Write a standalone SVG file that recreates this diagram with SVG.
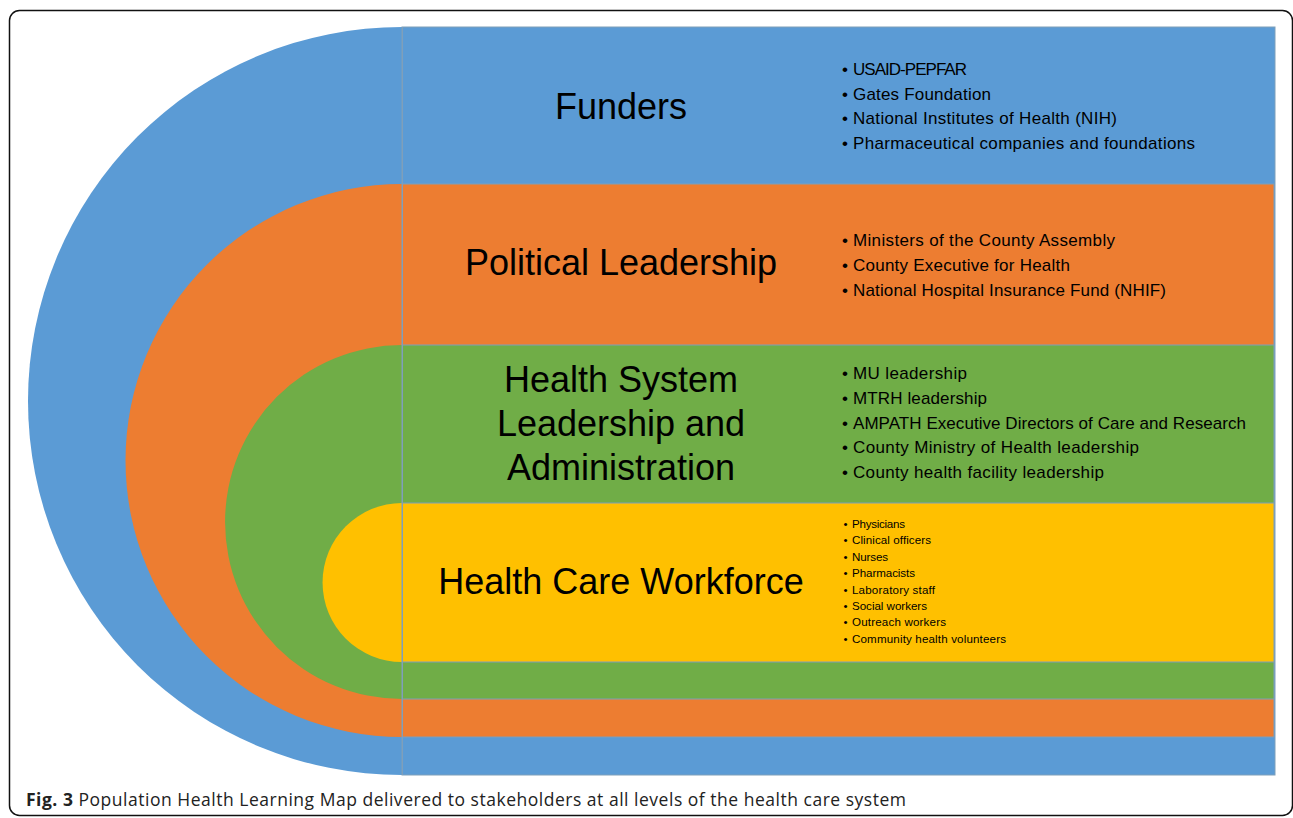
<svg xmlns="http://www.w3.org/2000/svg" width="1293" height="818" viewBox="0 0 1293 818">
<style>
.title{font-family:"Liberation Sans",Arial,sans-serif;font-size:36px;fill:#000;text-anchor:middle}
.li{font-family:"Liberation Sans",Arial,sans-serif;font-size:17px;fill:#000}
.ls{font-family:"Liberation Sans",Arial,sans-serif;font-size:11.6px;fill:#000}
.edge{fill:none;stroke:#7f9fba;stroke-width:1}
.cap{font-family:"Open Sans","Noto Sans",sans-serif;font-size:17.5px;fill:#222}
</style>
<rect x="9.5" y="10.5" width="1283" height="805" rx="10" ry="10" fill="#fff" stroke="#111" stroke-width="1.5"/>
<g id="funders">
<path d="M1275,27 H402 A374,374 0 0 0 402,775 H1275 Z" fill="#5B9BD5"/>
<rect class="edge" x="402" y="27" width="873" height="748" stroke="#6f9fcf"/>
<text class="title" x="621" y="119">Funders</text>
<text class="li" x="842" y="75">•</text><text class="li" x="853" y="75" textLength="114">USAID-PEPFAR</text>
<text class="li" x="842" y="99.5">•</text><text class="li" x="853" y="99.5" textLength="138">Gates Foundation</text>
<text class="li" x="842" y="124">•</text><text class="li" x="853" y="124" textLength="264">National Institutes of Health (NIH)</text>
<text class="li" x="842" y="148.5">•</text><text class="li" x="853" y="148.5" textLength="342">Pharmaceutical companies and foundations</text>
</g>
<g id="political">
<path d="M1274,184 H402 A276.5,276.5 0 0 0 402,737 H1274 Z" fill="#ED7D31"/>
<rect class="edge" x="402" y="184" width="872" height="553"/>
<text class="title" x="621" y="275">Political Leadership</text>
<text class="li" x="842" y="246">•</text><text class="li" x="853" y="246" textLength="262">Ministers of the County Assembly</text>
<text class="li" x="842" y="271">•</text><text class="li" x="853" y="271" textLength="217">County Executive for Health</text>
<text class="li" x="842" y="296">•</text><text class="li" x="853" y="296" textLength="313">National Hospital Insurance Fund (NHIF)</text>
</g>
<g id="healthsystem">
<path d="M1274,345 H402 A177,177 0 0 0 402,699 H1274 Z" fill="#70AD47"/>
<rect class="edge" x="402" y="345" width="872" height="354"/>
<text class="title" x="621" y="392">Health System</text>
<text class="title" x="621" y="436">Leadership and</text>
<text class="title" x="621" y="480">Administration</text>
<text class="li" x="842" y="379">•</text><text class="li" x="853" y="379" textLength="114">MU leadership</text>
<text class="li" x="842" y="404">•</text><text class="li" x="853" y="404" textLength="134">MTRH leadership</text>
<text class="li" x="842" y="428.5">•</text><text class="li" x="853" y="428.5" textLength="393">AMPATH Executive Directors of Care and Research</text>
<text class="li" x="842" y="453">•</text><text class="li" x="853" y="453" textLength="286">County Ministry of Health leadership</text>
<text class="li" x="842" y="477.5">•</text><text class="li" x="853" y="477.5" textLength="251">County health facility leadership</text>
</g>
<g id="workforce">
<path d="M1274,503 H402 A79.5,79.5 0 0 0 402,662 H1274 Z" fill="#FFC000"/>
<rect class="edge" x="402" y="503" width="872" height="159"/>
<text class="title" x="621" y="594">Health Care Workforce</text>
<text class="ls" x="843.5" y="528">•</text><text class="ls" x="852" y="528" textLength="53">Physicians</text>
<text class="ls" x="843.5" y="544.4">•</text><text class="ls" x="852" y="544.4" textLength="79">Clinical officers</text>
<text class="ls" x="843.5" y="560.8">•</text><text class="ls" x="852" y="560.8" textLength="36">Nurses</text>
<text class="ls" x="843.5" y="577.2">•</text><text class="ls" x="852" y="577.2" textLength="63">Pharmacists</text>
<text class="ls" x="843.5" y="593.6">•</text><text class="ls" x="852" y="593.6" textLength="83">Laboratory staff</text>
<text class="ls" x="843.5" y="610">•</text><text class="ls" x="852" y="610" textLength="75">Social workers</text>
<text class="ls" x="843.5" y="626.4">•</text><text class="ls" x="852" y="626.4" textLength="94">Outreach workers</text>
<text class="ls" x="843.5" y="642.8">•</text><text class="ls" x="852" y="642.8" textLength="154">Community health volunteers</text>
</g>
<line class="edge" x1="402.5" y1="27" x2="402.5" y2="775"/>
<g id="connectors"/>
<text class="cap" x="26" y="806" textLength="880"><tspan font-weight="bold">Fig. 3</tspan> Population Health Learning Map delivered to stakeholders at all levels of the health care system</text>
</svg>
